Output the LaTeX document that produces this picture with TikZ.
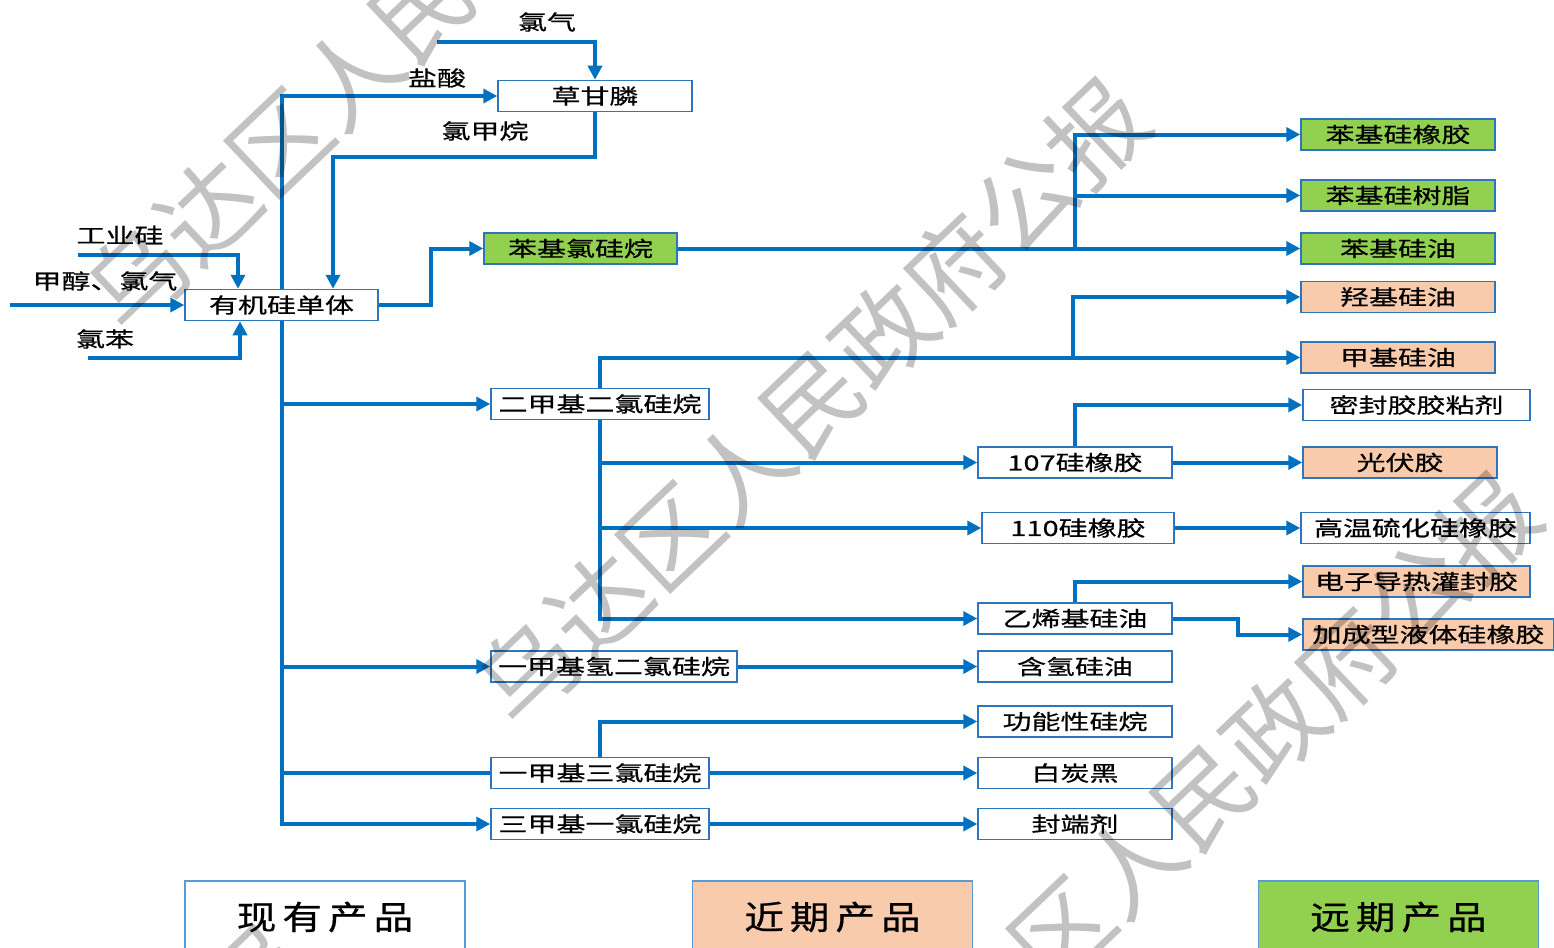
\documentclass[tikz,border=0pt]{standalone}
\usepackage{fontspec}
\setmainfont{Noto Sans CJK SC}[FakeStretch=1.38, FakeBold=0.6]
\newfontfamily\legfont{Noto Sans CJK SC}[FakeStretch=1.2, FakeBold=0.6]
\newfontfamily\wmfont{Noto Sans CJK SC}
\usetikzlibrary{arrows.meta}
\definecolor{lnc}{RGB}{0,112,192}
\definecolor{bxc}{RGB}{46,117,190}
\definecolor{lgc}{RGB}{91,155,213}
\definecolor{grn}{RGB}{146,208,80}
\definecolor{org}{RGB}{248,203,173}
\pgfdeclarelayer{bg}
\pgfdeclarelayer{fg}
\pgfsetlayers{bg,main,fg}
\begin{document}
\begin{tikzpicture}[x=1pt,y=-1pt,
  box/.style={draw=bxc, line width=1.5pt, fill=white, minimum height=31pt, minimum width=194pt,
    inner sep=0pt, font=\fontsize{21}{24}\selectfont},
  gbox/.style={box, fill=grn},
  obox/.style={box, fill=org},
  lbl/.style={inner sep=0pt, font=\fontsize{21}{24}\selectfont},
  legbox/.style={draw=lgc, line width=1.5pt, minimum width=280pt, minimum height=72pt, inner sep=0pt,
    font=\legfont\fontsize{33}{35}\selectfont},
  ln/.style={draw=lnc, line width=4pt},
  arr/.style={ln, -{Triangle[length=14pt,width=14pt]}},
  wm/.style={text=black, opacity=0.24, inner sep=0pt, rotate=43.5, font=\wmfont\fontsize{98}{100}\selectfont}
]
\useasboundingbox (0,0) rectangle (1554,947);
% main nodes
\node[box] (cgl) at (595,96) {草甘膦};
\node[box, minimum width=193pt] (dt) at (281.5,305) {有机硅单体};
\node[gbox, minimum width=193pt] (bjl) at (580.5,248.5) {苯基氯硅烷};
% right column
\node[gbox] (r1) at (1398,134.5) {苯基硅橡胶};
\node[gbox] (r2) at (1398,195.5) {苯基硅树脂};
\node[gbox] (r3) at (1398,248.5) {苯基硅油};
\node[obox] (r4) at (1398,297) {羟基硅油};
\node[obox] (r5) at (1398,357.5) {甲基硅油};
\node[box, minimum width=227pt] (r6) at (1416.5,405) {密封胶胶粘剂};
\node[obox] (r7) at (1400,462.5) {光伏胶};
\node[box, minimum width=229pt] (r8) at (1415.5,528) {高温硫化硅橡胶};
\node[obox, minimum width=227pt] (r9) at (1416.5,581.5) {电子导热灌封胶};
\node[obox, minimum width=251pt] (r10) at (1428.5,634.5) {加成型液体硅橡胶};
% middle column
\node[box, minimum width=218pt] (m1) at (600,404) {二甲基二氯硅烷};
\node[box, minimum width=246pt] (m2) at (614,666.5) {一甲基氢二氯硅烷};
\node[box, minimum width=218pt] (m3) at (600,773) {一甲基三氯硅烷};
\node[box, minimum width=218pt] (m4) at (600,824) {三甲基一氯硅烷};
% second column
\node[box] (c1) at (1075,462.5) {107硅橡胶};
\node[box, minimum width=192pt] (c2) at (1078,528) {110硅橡胶};
\node[box] (c3) at (1075,618.5) {乙烯基硅油};
\node[box] (c4) at (1075,666.5) {含氢硅油};
\node[box] (c5) at (1075,721.5) {功能性硅烷};
\node[box] (c6) at (1075,773) {白炭黑};
\node[box] (c7) at (1075,824) {封端剂};
% labels
\node[lbl] (l1) at (547,22) {氯气};
\node[lbl] (l2) at (437,78) {盐酸};
\node[lbl] (l3) at (485,131) {氯甲烷};
\node[lbl] (l4) at (120,235) {工业硅};
\node[lbl] (l5) at (105,281) {甲醇、氯气};
\node[lbl] (l6) at (105,339) {氯苯};
% legend
\node[legbox, fill=white] (L1) at (325,917) {现\hspace{6pt}有\hspace{6pt}产\hspace{6pt}品};
\node[legbox, fill=org] (L2) at (832.5,917) {近\hspace{6pt}期\hspace{6pt}产\hspace{6pt}品};
\node[legbox, fill=grn] (L3) at (1398.5,917) {远\hspace{6pt}期\hspace{6pt}产\hspace{6pt}品};
% free coordinates
\coordinate (q0) at (437,42);
\coordinate (q1) at (333,157);
\coordinate (tTop) at (282,96);
\coordinate (g0) at (78,255);
\coordinate (g1) at (238,255);
\coordinate (h0) at (10,305);
\coordinate (k0) at (88,358);
\coordinate (k1) at (240,358);
\coordinate (j1) at (431,305);
\coordinate (p1) at (1075,0);
\coordinate (p2) at (1073,0);
\coordinate (p3) at (1238,0);
\begin{pgfonlayer}{bg}
  \draw[arr] (q0) -| (cgl.north);
  \draw[ln, {Triangle[length=14pt,width=14pt]}-{Triangle[length=14pt,width=14pt]}] (m4.west) -| (tTop) -- (cgl.west);
  \draw[arr] (tTop |- m1.west) -- (m1.west);
  \draw[arr] (tTop |- m2.west) -- (m2.west);
  \draw[ln] (tTop |- m3.west) -- (m3.west);
  \draw[arr] (cgl.south) |- (q1) -- (q1 |- dt.north);
  \draw[arr] (g0) -- (g1) -- (g1 |- dt.north);
  \draw[arr] (h0) -- (h0 -| dt.west);
  \draw[arr] (k0) -- (k1) -- (k1 |- dt.south);
  \draw[arr] (dt.east) -- (j1) |- (bjl.west);
  \draw[arr] (bjl.east) -- (r3.west);
  \draw[arr] (p1 |- bjl.east) |- (r1.west);
  \draw[arr] (p1 |- bjl.east) |- (r2.west);
  \draw[arr] (m1.north) |- (r5.west);
  \draw[arr] (p2 |- r5.west) |- (r4.west);
  \draw[arr] (m1.south) |- (c3.west);
  \draw[arr] (m1.south |- c1.west) -- (c1.west);
  \draw[arr] (m1.south |- c2.west) -- (c2.west);
  \draw[arr] (c1.north) |- (r6.west);
  \draw[arr] (c1.east) -- (r7.west);
  \draw[arr] (c2.east) -- (r8.west);
  \draw[arr] (c3.north) |- (r9.west);
  \draw[arr] (c3.east) -- (c3.east -| p3) |- (r10.west);
  \draw[arr] (m2.east) -- (c4.west);
  \draw[arr] (m3.north) |- (c5.west);
  \draw[arr] (m3.east) -- (c6.west);
  \draw[arr] (m4.east) -- (c7.west);
\end{pgfonlayer}
\begin{pgfonlayer}{fg}
  \begin{scope}
    \clip (0,0) rectangle (1554,947);
    \node[wm] (w1) at (421,8) {乌达区人民政府公报};
    \node[wm] (w2) at (812,402) {乌达区人民政府公报};
    \node[wm] (w3) at (1203,796) {乌达区人民政府公报};
    \node[wm] (w4) at (-30,1250) {乌达区人民政府公报};
  \end{scope}
\end{pgfonlayer}
\end{tikzpicture}
\end{document}
